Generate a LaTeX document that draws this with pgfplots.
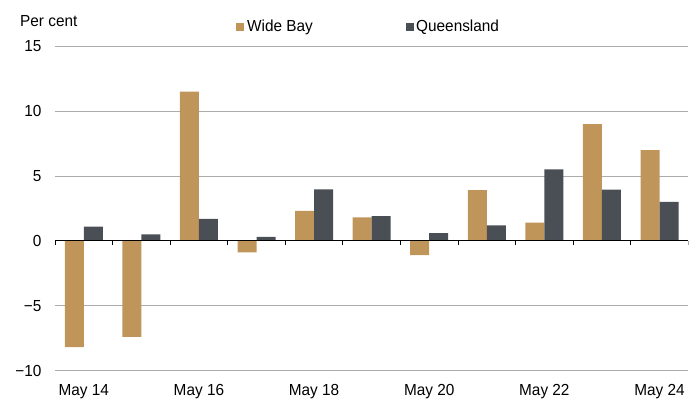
\documentclass[border=0pt]{standalone}
\usepackage{pgfplots}
\pgfplotsset{compat=1.18}
\usepackage{fontspec}
\setmainfont{Liberation Sans}[FakeStretch=0.96]
\definecolor{wb}{RGB}{191,149,90}
\definecolor{qld}{RGB}{74,79,86}
\definecolor{gridc}{RGB}{172,172,172}
\pgfplotstableread{
x wb qld
0 -8.2 1.1
1 -7.4 0.5
2 11.5 1.7
3 -0.9 0.3
4 2.3 3.96
5 1.8 1.9
6 -1.1 0.6
7 3.9 1.2
8 1.4 5.5
9 9.0 3.95
10 7.0 3.0
}\datatable
\begin{document}
\fontsize{16bp}{18bp}\selectfont
\begin{tikzpicture}
\begin{axis}[
  name=ax,
  scale only axis,
  width=633.3bp, height=324.2bp,
  xmin=-0.5, xmax=10.5,
  ymin=-10, ymax=15,
  ybar=0pt, bar width=0.33,
  axis x line=bottom, axis y line=left,
  axis line style={draw=none},
  xtick={0,2,4,6,8,10},
  xticklabels={May 14,May 16,May 18,May 20,May 22,May 24},
  ytick={-10,-5,0,5,10,15},
  yticklabels={−10,−5,0,5,10,15},
  major tick length=0pt,
  ymajorgrids,
  grid style={gridc, line width=0.8bp},
  tick label style={font=\fontsize{16bp}{18bp}\selectfont, text=black},
  xticklabel style={anchor=north, inner sep=0pt, yshift=-13.8bp},
  yticklabel style={anchor=east, inner sep=0pt, xshift=-13.3bp},
  legend style={at={(axis description cs:0.2858,1.0584)}, anchor=west,
    draw=none, fill=none, inner sep=0pt, legend columns=2,
    font=\fontsize{16bp}{18bp}\selectfont,
    nodes={inner sep=0pt, anchor=west}, column sep=0pt},
  legend image code/.code={\fill[#1] (0bp,-4bp) rectangle (8bp,4bp);},
]
\addplot[fill=wb, draw=none] table[x=x, y=wb] {\datatable};
\addlegendentry{\makebox[162bp][l]{\hspace{3bp}Wide Bay}}
\addplot[fill=qld, draw=none] table[x=x, y=qld] {\datatable};
\addlegendentry{\hspace{2bp}Queensland}
\draw[black, line width=0.9bp] (axis cs:-0.5,0) -- (axis cs:10.5,0);
\pgfplotsinvokeforeach{-0.5,0.5,1.5,2.5,3.5,4.5,5.5,6.5,7.5,8.5,9.5,10.5}{
  \draw[black, line width=0.9bp] (axis cs:#1,0) -- ([yshift=-4.5bp]axis cs:#1,0);
}
\end{axis}
\node[anchor=base west, inner sep=0pt] at ([shift={(-35bp,19.6bp)}]ax.north west) {Per cent};
\path ([shift={(-55bp,-30.5bp)}]ax.south west) rectangle ([shift={(8.7bp,46.3bp)}]ax.north east);
\end{tikzpicture}
\end{document}
